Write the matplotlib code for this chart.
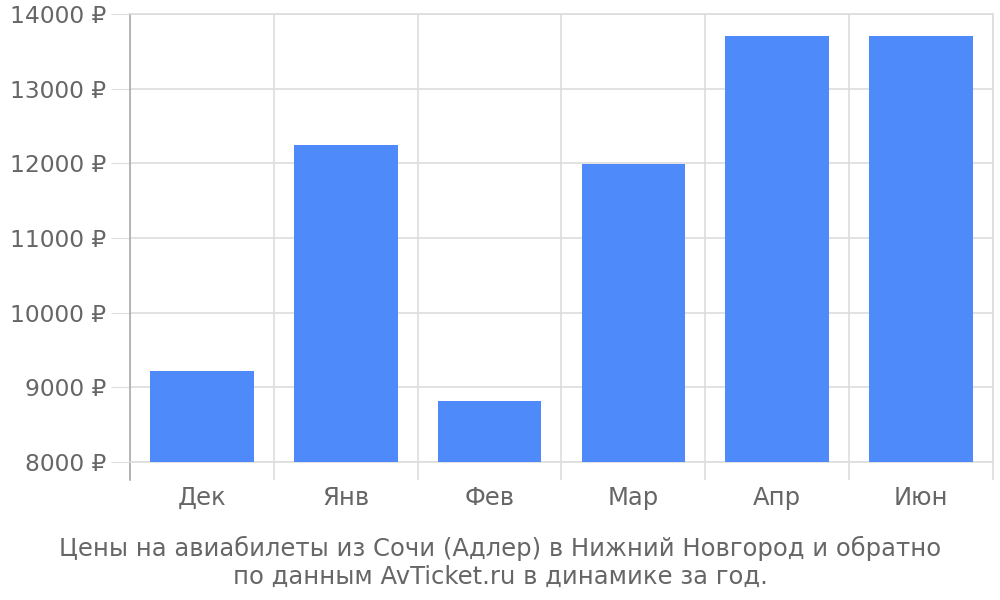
import matplotlib.pyplot as plt
import numpy as np

# данные
months = ["Дек", "Янв", "Фев", "Мар", "Апр", "Июн"]
prices = [9220, 12240, 8820, 11990, 13710, 13710]
y_ticks = [8000, 9000, 10000, 11000, 12000, 13000, 14000]
caption = ("Цены на авиабилеты из Сочи (Адлер) в Нижний Новгород и обратно\n"
           "по данным AvTicket.ru в динамике за год.")

plt.rcParams["font.family"] = ["DejaVu Sans"]
text_color = "#666666"
grid_color = "#dddddd"

fig = plt.figure(figsize=(10, 6), dpi=100)
ax = fig.add_axes([0.130, 0.230, 0.863, 0.7467])

x = np.arange(len(months))
ax.bar(x, prices, width=0.72, bottom=0, color="#4e8af9", zorder=3)

ax.set_xlim(-0.5, len(months) - 0.5)
ax.set_ylim(y_ticks[0], y_ticks[-1])

# ось Y
ax.set_yticks(y_ticks)
ax.set_yticklabels([f"{v} ₽" for v in y_ticks])
ax.tick_params(axis="y", length=14, color=grid_color, labelsize=16.8,
               labelcolor=text_color, pad=3)
ax.yaxis.grid(True, color=grid_color, linewidth=1.2, zorder=0)

# ось X: подписи по центрам, засечки по границам
ax.set_xticks(x)
ax.set_xticklabels(months)
ax.tick_params(axis="x", which="major", length=0, labelsize=17.5,
               labelcolor=text_color, pad=17)
ax.set_xticks(np.arange(-0.5, len(months)), minor=True)
ax.tick_params(axis="x", which="minor", length=13, color=grid_color, width=1.2)
ax.xaxis.grid(True, which="minor", color=grid_color, linewidth=1.2, zorder=0)

for side in ["top", "right", "bottom"]:
    ax.spines[side].set_color(grid_color)
    ax.spines[side].set_linewidth(1.2)
ax.spines["left"].set_color("#aaaaaa")
ax.spines["left"].set_linewidth(1.2)
ax.axvline(-0.5, ymin=-0.04, ymax=0, color="#aaaaaa", linewidth=1.2, clip_on=False)

fig.text(0.5, 0.063, caption, ha="center", va="center", fontsize=17.5,
         color=text_color, linespacing=1.2)

fig.savefig("out.png", dpi=100)
